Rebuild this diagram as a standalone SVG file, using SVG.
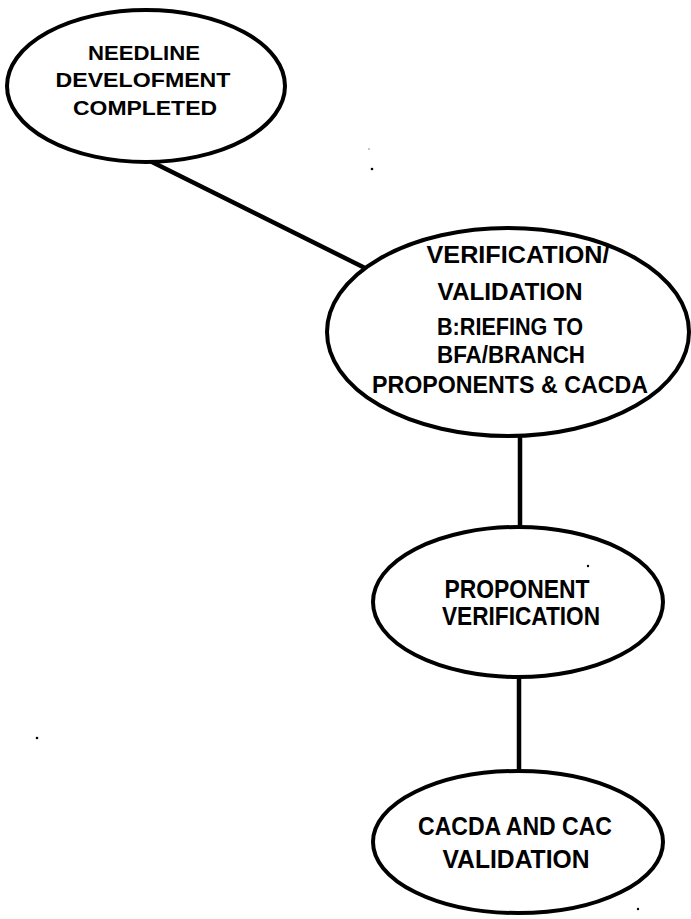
<svg xmlns="http://www.w3.org/2000/svg" width="691" height="919" viewBox="0 0 691 919">
  <style>
    .node { fill: #fff; stroke: #000; stroke-width: 4; }
    .edge { stroke: #000; stroke-width: 4.5; fill: none; stroke-linecap: round; }
    .lbl { font-family: "Liberation Sans", Arial, sans-serif; font-weight: bold; fill: #000; text-anchor: middle; }
    .s21 { font-size: 21px; }
    .s23 { font-size: 23px; }
    .s25 { font-size: 25px; }
    .speck { fill: #000; }
  </style>
  <rect width="691" height="919" fill="#fff"/>

  <g id="connectors">
    <line class="edge" x1="150" y1="161" x2="365" y2="268"/>
    <line class="edge" x1="520" y1="435" x2="520" y2="528"/>
    <line class="edge" x1="519" y1="676" x2="519" y2="772"/>
  </g>

  <g id="needline-development">
    <ellipse class="node" cx="146" cy="86" rx="139" ry="76"/>
    <text class="lbl s21" x="144" y="60" textLength="112" lengthAdjust="spacingAndGlyphs">NEEDLINE</text>
    <text class="lbl s21" x="143" y="87" textLength="175" lengthAdjust="spacingAndGlyphs">DEVELOFMENT</text>
    <text class="lbl s21" x="145" y="115" textLength="144" lengthAdjust="spacingAndGlyphs">COMPLETED</text>
  </g>

  <g id="verification-briefing">
    <ellipse class="node" cx="508" cy="332" rx="181" ry="104"/>
    <text class="lbl s23" x="518" y="263" textLength="183" lengthAdjust="spacingAndGlyphs">VERIFICATION/</text>
    <text class="lbl s23" x="510" y="300" textLength="145" lengthAdjust="spacingAndGlyphs">VALIDATION</text>
    <text class="lbl s23" x="510" y="335" textLength="146" lengthAdjust="spacingAndGlyphs">B:RIEFING TO</text>
    <text class="lbl s23" x="511" y="363" textLength="148" lengthAdjust="spacingAndGlyphs">BFA/BRANCH</text>
    <text class="lbl s23" x="510" y="393" textLength="276" lengthAdjust="spacingAndGlyphs">PROPONENTS &amp; CACDA</text>
  </g>

  <g id="proponent-verification">
    <ellipse class="node" cx="518" cy="602" rx="145" ry="75"/>
    <text class="lbl s25" x="517" y="598" textLength="145" lengthAdjust="spacingAndGlyphs">PROPONENT</text>
    <text class="lbl s25" x="521" y="625" textLength="158" lengthAdjust="spacingAndGlyphs">VERIFICATION</text>
  </g>

  <g id="cacda-cac-validation">
    <ellipse class="node" cx="518" cy="842" rx="145" ry="71"/>
    <text class="lbl s25" x="515" y="835" textLength="194" lengthAdjust="spacingAndGlyphs">CACDA AND CAC</text>
    <text class="lbl s25" x="516" y="868" textLength="147" lengthAdjust="spacingAndGlyphs">VALIDATION</text>
  </g>

  <g id="specks">
    <circle class="speck" cx="372" cy="169" r="1.3"/>
    <circle class="speck" cx="369" cy="149" r="0.8" opacity="0.5"/>
    <circle class="speck" cx="37" cy="738" r="1.3"/>
    <circle class="speck" cx="638" cy="909" r="1.2"/>
    <circle class="speck" cx="588" cy="566" r="1.2"/>
  </g>
</svg>
